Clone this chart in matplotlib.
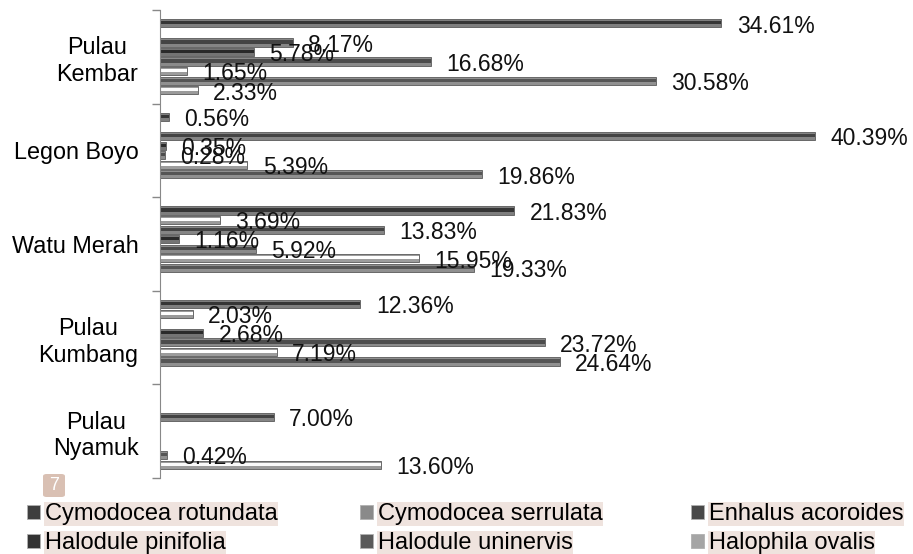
"""Seagrass species cover per site: grouped horizontal bars with % labels."""

import matplotlib
matplotlib.use("Agg")
import matplotlib.pyplot as plt
from matplotlib.patches import FancyBboxPatch
import numpy as np

plt.rcParams["font.family"] = ["Liberation Sans", "DejaVu Sans"]

sites = ["Pulau\nKembar", "Legon Boyo", "Watu Merah", "Pulau\nKumbang", "Pulau\nNyamuk"]
species = [
    "Cymodocea rotundata",
    "Cymodocea serrulata",
    "Enhalus acoroides",
    "Halodule pinifolia",
    "Halodule uninervis",
    "Halophila ovalis",
    "Syringodium isoetifolium",
    "Thalassia hemprichii",
]

# percent cover, one list per species, sites in the order above (0 = absent)
cymodocea_rotundata = [34.61, 0.56, 21.83, 12.36, 0]
cymodocea_serrulata = [0, 0, 3.69, 2.03, 0]
enhalus_acoroides = [8.17, 40.39, 13.83, 0, 7.00]
halodule_pinifolia = [5.78, 0.35, 1.16, 2.68, 0]
halodule_uninervis = [16.68, 0.28, 5.92, 23.72, 0]
halophila_ovalis = [1.65, 5.39, 15.95, 7.19, 0]
syringodium_isoetifolium = [30.58, 19.86, 19.33, 24.64, 0.42]
thalassia_hemprichii = [2.33, 0, 0, 0, 13.60]

series = [
    cymodocea_rotundata,
    cymodocea_serrulata,
    enhalus_acoroides,
    halodule_pinifolia,
    halodule_uninervis,
    halophila_ovalis,
    syringodium_isoetifolium,
    thalassia_hemprichii,
]

# bevelled look: grey rim bar + thinner core bar
cores = ["#353535", "#ffffff", "#444444", "#2a2a2a", "#4c4c4c", "#ffffff", "#555555", "#fafafa"]
rims = ["#7e7e7e", "#9a9a9a", "#858585", "#747474", "#8a8a8a", "#9c9c9c", "#909090", "#9a9a9a"]
legend_faces = ["#3e3e3e", "#8a8a8a", "#484848", "#333333", "#5a5a5a", "#a5a5a5"]

fig = plt.figure(figsize=(9.13, 5.54), dpi=100)
ax = fig.add_axes([160 / 913, 1 - 478 / 554, 753 / 913, 468 / 554])

n = len(series)
slot = 0.1022
y0 = np.arange(len(sites))
handles = []
for k, vals in enumerate(series):
    ys = y0 + (k - (n - 1) / 2) * slot
    bars = ax.barh(ys, vals, height=slot * 0.86, color=rims[k], edgecolor="#5a5a5a",
                   linewidth=0.6, label=species[k])
    ax.barh(ys - slot * 0.05, vals, height=slot * 0.34, color=cores[k], linewidth=0)
    handles.append(bars)
    for y, v in zip(ys, vals):
        if v > 0:
            ax.annotate(f"{v:.2f}%", (v, y), xytext=(11, -2), textcoords="offset points",
                        va="center", ha="left", fontsize=16.5, color="#111111")

ax.set_xlim(0, 46.42)
ax.set_ylim(len(sites) - 0.5, -0.5)
ax.set_yticks(y0, labels=sites, fontsize=16.8, multialignment="center")
ax.set_yticks(np.arange(len(sites) + 1) - 0.5, minor=True)
ax.tick_params(axis="y", which="major", length=0, pad=15.5)
ax.tick_params(axis="y", which="minor", length=6, color="#888888", width=1)
ax.set_xticks([])
for side in ("top", "right", "bottom"):
    ax.spines[side].set_visible(False)
ax.spines["left"].set_color("#888888")

# legend: three equal-width columns, two rows (only the first six entries are visible)
col_x = [27, 360, 691]
for c, x in enumerate(col_x):
    idx = [c, c + 3]
    leg = fig.legend([handles[i] for i in idx], [species[i] for i in idx],
                     loc="upper left", bbox_to_anchor=(x / 913, 1 - 503 / 554), frameon=False,
                     fontsize=17, handlelength=0.55, handleheight=0.55, handletextpad=0.2,
                     labelspacing=0.3, borderpad=0, borderaxespad=0)
    for patch, i in zip(leg.get_patches(), idx):
        patch.set_facecolor(legend_faces[i])
        patch.set_edgecolor("#b0b0b0")
    for txt in leg.get_texts():
        txt.set_bbox(dict(facecolor="#efe3de", edgecolor="none", pad=0.5))

badge = FancyBboxPatch((43 / 913, 1 - 497 / 554), 22 / 913, 23 / 554,
                       boxstyle="round,pad=0,rounding_size=0.004", transform=fig.transFigure,
                       facecolor="#d9c0b3", edgecolor="none")
fig.patches.append(badge)
fig.text(54 / 913, 1 - 486 / 554, "7", color="white", fontsize=13, ha="center", va="center")

fig.savefig("out.png", dpi=100)
